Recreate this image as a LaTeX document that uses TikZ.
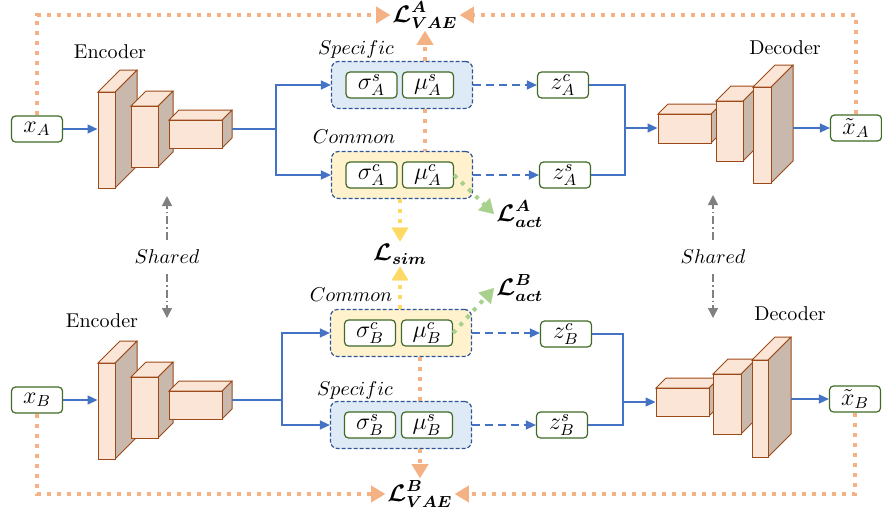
\documentclass[tikz,border=0pt]{standalone}
\usepackage{amsmath,amssymb,bm}
\usetikzlibrary{arrows.meta,calc}
\definecolor{encface}{HTML}{FBE5D6}
\definecolor{encside}{HTML}{C9B8AC}
\definecolor{encedge}{HTML}{9C4A1A}
\definecolor{netblue}{HTML}{4472C4}
\definecolor{grpblue}{HTML}{2F5597}
\definecolor{specfill}{HTML}{DEEBF7}
\definecolor{comfill}{HTML}{FFF2CC}
\definecolor{boxgreen}{HTML}{3F6B25}
\definecolor{vaeorange}{HTML}{F4B183}
\definecolor{simyellow}{HTML}{FFD966}
\definecolor{actgreen}{HTML}{A9D18E}
\definecolor{sharegray}{HTML}{808080}
\tikzset{>={Triangle[length=5pt,width=4.5pt]}}
\tikzset{
  varbox/.style={draw=boxgreen,line width=0.6pt,rounded corners=2pt,fill=white,
    minimum width=25.5pt,minimum height=13pt,inner sep=0pt,font=\large},
  group/.style={draw=grpblue,line width=0.6pt,dash pattern=on 2pt off 1pt,
    rounded corners=3.5pt,minimum width=70.5pt,minimum height=23.5pt,inner sep=0pt},
  blockface/.style={draw=encedge,fill=encface,line width=0.5pt,inner sep=0pt},
  blockside/.style={draw=encedge,fill=encside,line width=0.5pt,line join=round},
  flow/.style={draw=netblue,line width=0.7pt},
  flowarrow/.style={flow,->},
  dashflow/.style={flow,->,dash pattern=on 4pt off 2.5pt},
  lossdots/.style={line width=2pt,dash pattern=on 2pt off 3pt},
  vaeloss/.style={lossdots,draw=vaeorange},
  vaearrow/.style={vaeloss,-{Triangle[length=7pt,width=8.5pt,line width=0.1pt]}},
  simarrow/.style={lossdots,draw=simyellow,-{Triangle[length=7pt,width=8.5pt,line width=0.1pt]}},
  actarrow/.style={lossdots,draw=actgreen,-{Triangle[length=7pt,width=8.5pt,line width=0.1pt]}},
  sharearrow/.style={draw=sharegray,line width=0.7pt,dash pattern=on 4pt off 1.5pt on 0.6pt off 1.5pt,
    shorten <=5pt,-{Triangle[length=5pt,width=5pt]}},
  losslabel/.style={font=\large,inner sep=1pt},
  tag/.style={inner sep=0pt}
}
% cuboid: name, front top-left (x,y), front bottom-right (x,y), depth
\newcommand{\convblock}[6]{%
  \filldraw[blockside] (#4,#3) -- ++(#6,-#6) -- ++(0,#5-#3) -- (#4,#5) -- cycle;
  \filldraw[blockface] (#2,#3) -- ++(#6,-#6) -- (#4+#6,#3-#6) -- (#4,#3) -- cycle;
  \node[blockface,minimum width={(#4-#2)*0.5pt},minimum height={(#5-#3)*0.5pt}]
    (#1) at ({(#2+#4)/2},{(#3+#5)/2}) {};
  \coordinate (#1-out) at ({#4+#6},{(#3+#5)/2-#6/2});
}
\begin{document}
\begin{tikzpicture}[x=0.5pt,y=-0.5pt]
  \useasboundingbox (0,0) rectangle (882,515);

  % Encoders
  \convblock{encA1}{98}{92}{115}{188}{22}
  \convblock{encA2}{131}{106}{158}{167}{15}
  \convblock{encA3}{169}{120}{222}{148}{10}
  \convblock{encB1}{98}{363}{115}{459}{22}
  \convblock{encB2}{131}{377}{158}{438}{15}
  \convblock{encB3}{169}{391}{222}{419}{10}
  \node[tag] (encAlab) at (110,52) {Encoder};
  \node[tag] (encBlab) at (102,321) {Encoder};

  % Decoders
  \convblock{decA1}{658}{114}{711}{143}{10}
  \convblock{decA2}{716}{101}{743}{161}{15}
  \convblock{decA3}{753}{87}{771}{183}{22}
  \convblock{decB1}{656}{388}{709}{416}{10}
  \convblock{decB2}{713}{374}{741}{434}{15}
  \convblock{decB3}{752}{360}{768}{457}{23}
  \node[tag] (decAlab) at (785,48) {Decoder};
  \node[tag] (decBlab) at (790,314) {Decoder};

  % Inputs and outputs
  \node[varbox] (xA) at (37,129) {$x_A$};
  \node[varbox] (xB) at (37,400) {$x_B$};
  \node[varbox] (xtA) at (856,128) {$\tilde{x}_A$};
  \node[varbox] (xtB) at (855,399) {$\tilde{x}_B$};

  % Latent groups
  \node[group,fill=specfill] (specA) at (402,85) {};
  \node[group,fill=comfill] (comA) at (402,175) {};
  \node[group,fill=comfill] (comB) at (401,333) {};
  \node[group,fill=specfill] (specB) at (401,425) {};
  \node[tag] (specAlab) at (356,49) {$Specific$};
  \node[tag] (comAlab) at (354,137) {$Common$};
  \node[tag] (comBlab) at (351,295) {$Common$};
  \node[tag] (specBlab) at (355,390) {$Specific$};
  \node[varbox] (sigAs) at (371.5,85) {$\sigma_A^s$};
  \node[varbox] (muAs) at (428,85) {$\mu_A^s$};
  \node[varbox] (sigAc) at (371.5,175) {$\sigma_A^c$};
  \node[varbox] (muAc) at (428,175) {$\mu_A^c$};
  \node[varbox] (sigBc) at (370,333) {$\sigma_B^c$};
  \node[varbox] (muBc) at (427,333) {$\mu_B^c$};
  \node[varbox] (sigBs) at (370,425) {$\sigma_B^s$};
  \node[varbox] (muBs) at (427,425) {$\mu_B^s$};

  % Sampled codes
  \node[varbox] (zAc) at (563,85) {$z_A^c$};
  \node[varbox] (zAs) at (565,175) {$z_A^s$};
  \node[varbox] (zBc) at (566,334) {$z_B^c$};
  \node[varbox] (zBs) at (562,425) {$z_B^s$};

  % Losses
  \node[losslabel] (LA) at (425,15) {$\bm{\mathcal{L}^{A}_{VAE}}$};
  \node[losslabel] (LB) at (420,494) {$\bm{\mathcal{L}^{B}_{VAE}}$};
  \node[losslabel] (Lsim) at (400,254) {$\bm{\mathcal{L}_{sim}}$};
  \node[losslabel,anchor=west] (LactA) at (494,214) {$\bm{\mathcal{L}^{A}_{act}}$};
  \node[losslabel,anchor=west] (LactB) at (494,288) {$\bm{\mathcal{L}^{B}_{act}}$};

  \node[tag] (shE) at (167,257) {$Shared$};
  \node[tag] (shD) at (713,257) {$Shared$};
  \coordinate (shEa) at (167,196);
  \coordinate (shEb) at (167,318);
  \coordinate (shDa) at (713,195);
  \coordinate (shDb) at (713,318);

  \coordinate (splitA) at (276,129);
  \coordinate (splitB) at (282,400);
  \coordinate (joinA) at (625,128);
  \coordinate (joinB) at (623,402);

  % Lines
  \draw[flowarrow] (xA.east) -- (xA.east -| encA1.west);
  \draw[flowarrow] (xB.east) -- (xB.east -| encB1.west);
  \draw[flow] (encA3-out) -- (splitA);
  \draw[flow] (encB3-out) -- (splitB);
  \draw[flowarrow] (splitA) |- (specA.west);
  \draw[flowarrow] (splitA) |- (comA.west);
  \draw[flowarrow] (splitB) |- (comB.west);
  \draw[flowarrow] (splitB) |- (specB.west);
  \draw[dashflow] (specA.east) -- (zAc.west);
  \draw[dashflow] (comA.east) -- (zAs.west);
  \draw[dashflow] (comB.east) -- (comB.east -| zBc.west);
  \draw[dashflow] (specB.east) -- (zBs.west);
  \draw[flow] (zAc.east) -| (joinA);
  \draw[flow] (zAs.east) -| (joinA);
  \draw[flow] (zBc.east) -| (joinB);
  \draw[flow] (zBs.east) -| (joinB);
  \draw[flowarrow] (joinA) -- (joinA -| decA1.west);
  \draw[flowarrow] (joinB) -- (joinB -| decB1.west);
  \draw[flowarrow] (xtA.west -| decA3-out) -- (xtA.west);
  \draw[flowarrow] (xtB.west -| decB3-out) -- (xtB.west);

  % Shared weights
  \draw[sharearrow] (shE.north) -- (shEa);
  \draw[sharearrow] (shE.south) -- (shEb);
  \draw[sharearrow] (shD.north) -- (shDa);
  \draw[sharearrow] (shD.south) -- (shDb);

  % Loss terms
  \draw[vaearrow] (xA.north) |- (LA.west);
  \draw[vaearrow] (xtA.north) |- (LA.east);
  \draw[vaearrow] (xB.south) |- (LB.west);
  \draw[vaearrow] (xtB.south) |- (LB.east);
  \draw[vaearrow] (specA.north -| LA.south) -- (LA.south);
  \draw[vaeloss] (specA.south -| LA.south) -- (comA.north -| LA.south);
  \draw[vaearrow] (specB.south -| LB.north) -- (LB.north);
  \draw[vaeloss] (comB.south -| LB.north) -- (specB.north -| LB.north);
  \draw[simarrow] (comA.south -| Lsim.north) -- (Lsim.north);
  \draw[simarrow] (comB.north -| Lsim.south) -- (Lsim.south);
  \draw[actarrow] (muAc.east) -- (LactA.west);
  \draw[actarrow] (muBc.east) -- (LactB.west);
\end{tikzpicture}
\end{document}
